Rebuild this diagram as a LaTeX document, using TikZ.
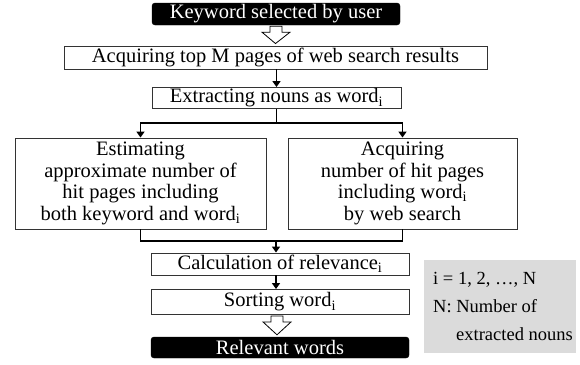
\documentclass[tikz,border=0pt]{standalone}
\usepackage{fontspec}
\setmainfont{Liberation Serif}
\usetikzlibrary{arrows.meta,calc}
\begin{document}
\begin{tikzpicture}[x=1pt,y=1pt,
  font=\fontsize{20.5}{21.5}\selectfont,
  box/.style={draw=black!80,line width=0.9pt,inner sep=0pt,align=center},
  blackbox/.style={fill=black,draw=black,rounded corners=3pt,text=white,inner sep=0pt},
  arr/.style={line width=1.5pt,-{Triangle[width=8pt,length=6pt]}},
  conn/.style={line width=1.5pt},
  hollow/.style={draw=black,line width=0.8pt,fill=white},
  note/.style={fill=black!14,inner sep=0pt,minimum width=152,minimum height=93}
]
\useasboundingbox (0,0) rectangle (580,-364);

\node[blackbox,minimum width=248,minimum height=22] (top) at (276,-14) {Keyword selected by user};
\node[box,minimum width=423,minimum height=23] (b2) at (275.5,-57.5) {Acquiring top M pages of web search results};
\node[box,minimum width=249,minimum height=21] (b3) at (276.5,-98) {Extracting nouns as word\textsubscript{i}};
\node[box,minimum width=251,minimum height=91] (left) at (140.5,-183.5)
  {Estimating\\approximate number of\\hit pages including\\both keyword and word\textsubscript{i}};
\node[box,minimum width=229,minimum height=91] (right) at (402.5,-183.5)
  {Acquiring\\number of hit pages\\including word\textsubscript{i}\\by web search};
\node[box,minimum width=258,minimum height=22] (calc) at (280,-264) {Calculation of relevance\textsubscript{i}};
\node[box,minimum width=258,minimum height=25] (sort) at (280,-302) {Sorting word\textsubscript{i}};
\node[blackbox,minimum width=258,minimum height=21] (rel) at (280,-347.5) {Relevant words};

\node[note] (g) at (500,-306.5) {};
\node[anchor=north west,align=left,inner sep=0pt,font=\fontsize{18.5}{28}\selectfont]
  (gt) at (433,-272) {i = 1, 2, …, N\\N: Number of\\\hspace*{23pt}extracted nouns};

\coordinate (j1) at ($(b3.south)+(0,-14)$);
\coordinate (j2) at (276,-241);
\coordinate (h2) at (277,0);

% hollow arrows
\draw[hollow] ($(top.south)+(-6,-1)$) -- ($(top.south)+(-6,-7)$) -- ($(top.south)+(-14,-7)$)
  -- ($(b2.north)+(0,2)$) -- ($(top.south)+(14,-7)$) -- ($(top.south)+(6,-7)$)
  -- ($(top.south)+(6,-1)$) -- cycle;
\draw[hollow] ($(sort.south -| h2)+(-6,-1)$) -- ($(sort.south -| h2)+(-6,-7)$) -- ($(sort.south -| h2)+(-14,-7)$)
  -- ($(rel.north -| h2)+(0,2)$) -- ($(sort.south -| h2)+(14,-7)$) -- ($(sort.south -| h2)+(6,-7)$)
  -- ($(sort.south -| h2)+(6,-1)$) -- cycle;

\draw[arr] (b2.south -| b3.north) -- (b3.north);
\draw[conn] (b3.south) -- (j1);
\draw[arr] (j1) -| (left.north);
\draw[arr] (j1) -| (right.north);
\draw[conn] (left.south) |- (j2);
\draw[conn] (right.south) |- (j2);
\draw[arr] (j2) -- (j2 |- calc.north);
\draw[arr] (calc.south -| j2) -- (sort.north -| j2);
\end{tikzpicture}
\end{document}
